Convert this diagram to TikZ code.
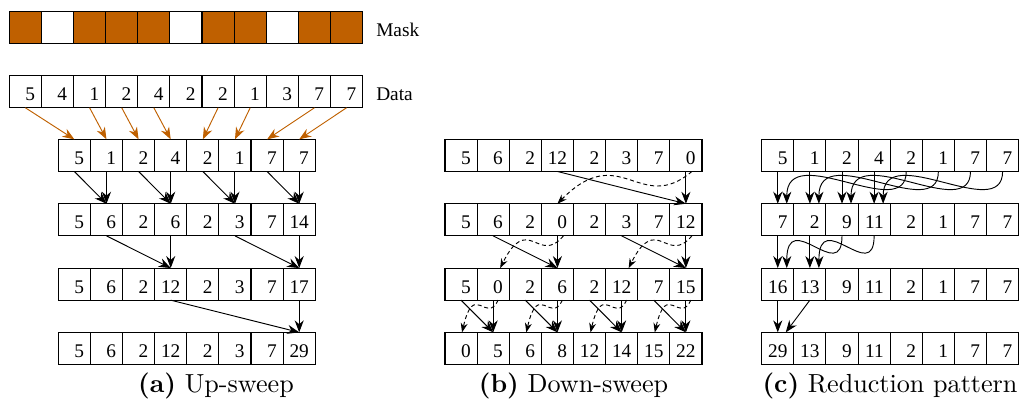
\documentclass[tikz,border=0pt]{standalone}
\usepackage{fontspec}
\usepackage{graphicx}
\newfontfamily\tms{Liberation Serif}
\usetikzlibrary{arrows.meta,calc}
\definecolor{morange}{rgb}{0.75,0.375,0}
\newcommand\cellrow[4]{%
  \foreach \v [count=\i from 0] in {#4}
    \node[cell] (#1-\i) at ({#2+32.12*(\i+0.5)},#3) {\makebox[1em][r]{\v}};}
\begin{document}
\begin{tikzpicture}[x=0.75pt,y=-0.75pt,
  cell/.style={draw, line width=0.8pt, minimum width=24.09pt, minimum height=24.09pt,
    inner sep=0pt, outer sep=0pt, text height=13.8pt, text depth=0.2pt,
    font=\tms\fontsize{14.5}{17}\selectfont},
  lbl/.style={font=\tms\fontsize{14.5}{17}\selectfont, inner sep=0pt},
  captxt/.style={inner sep=0pt, anchor=base},
  arr/.style={-{Stealth[length=9pt,width=6.8pt]}, line width=0.7pt},
  oarr/.style={arr, draw=morange},
  dsh/.style={-{Stealth[length=7pt,width=5.2pt]}, line width=0.7pt, dash pattern=on 3pt off 2.2pt}]
\useasboundingbox (0,0) rectangle (1021,401);

% mask and data
\foreach \c [count=\i from 0] in {morange,white,morange,morange,morange,white,morange,morange,white,morange,morange}
  \node[cell, fill=\c] (m-\i) at ({9.3+32.12*(\i+0.5)},27.2) {};
\cellrow{d}{9.3}{91.7}{5,4,1,2,4,2,2,1,3,7,7}
\node[lbl, anchor=base west] (masklbl) at (376,36) {Mask};
\node[lbl, anchor=base west] (datalbl) at (376,100) {Data};

% panel a
\cellrow{a1}{58.3}{155.4}{5,1,2,4,2,1,7,7}
\cellrow{a2}{58.3}{219.8}{5,6,2,6,2,3,7,14}
\cellrow{a3}{58.3}{284.1}{5,6,2,12,2,3,7,17}
\cellrow{a4}{58.3}{348.4}{5,6,2,12,2,3,7,29}
\foreach \s/\t in {0/0,2/1,3/2,4/3,6/4,7/5,9/6,10/7}
  \draw[oarr] (d-\s.south) -- (a1-\t.north);
\foreach \s/\t in {0/1,1/1,2/3,3/3,4/5,5/5,6/7,7/7}
  \draw[arr] (a1-\s.south) -- (a2-\t.north);
\foreach \s/\t in {1/3,3/3,5/7,7/7}
  \draw[arr] (a2-\s.south) -- (a3-\t.north);
\foreach \s/\t in {3/7,7/7}
  \draw[arr] (a3-\s.south) -- (a4-\t.north);

% panel b
\cellrow{b1}{445}{155.4}{5,6,2,12,2,3,7,0}
\cellrow{b2}{445}{219.8}{5,6,2,0,2,3,7,12}
\cellrow{b3}{445}{284.1}{5,0,2,6,2,12,7,15}
\cellrow{b4}{445}{348.4}{0,5,6,8,12,14,15,22}
\draw[arr] (b1-3.south) -- (b2-7.north);
\draw[arr] (b1-7.south) -- (b2-7.north);
\draw[dsh] ($(b1-7.south)+(6,0)$) .. controls +(-52,44) and +(63,-64) .. (b2-3.north);
\foreach \s/\t in {1/3,3/3,5/7,7/7}
  \draw[arr] (b2-\s.south) -- (b3-\t.north);
\foreach \s/\t in {3/1,7/5}
  \draw[dsh] ($(b2-\s.south)+(6,0)$) .. controls +(-25,30) and +(28,-56) .. ($(b3-\t.north)+(7,0)$);
\foreach \s/\t in {0/1,1/1,2/3,3/3,4/5,5/5,6/7,7/7}
  \draw[arr] (b3-\s.south) -- (b4-\t.north);
\foreach \s/\t in {1/0,3/2,5/4,7/6}
  \draw[dsh] ($(b3-\s.south)+(5,0)$) .. controls +(-12,25) and +(12,-52) .. ($(b4-\t.north)+(1,0)$);

% panel c
\cellrow{c1}{761.7}{155.4}{5,1,2,4,2,1,7,7}
\cellrow{c2}{761.7}{219.8}{7,2,9,11,2,1,7,7}
\cellrow{c3}{761.7}{284.1}{16,13,9,11,2,1,7,7}
\cellrow{c4}{761.7}{348.4}{29,13,9,11,2,1,7,7}
\foreach \i in {0,1,2,3}
  \draw[arr] (c1-\i.south) -- (c2-\i.north);
\foreach \s/\t in {4/0,5/1,6/2,7/3}
  \draw[arr] (c1-\s.south) .. controls +(0,53) and +(0,-65) .. ($(c2-\t.north)+(9,0)$);
\foreach \i in {0,1}
  \draw[arr] (c2-\i.south) -- (c3-\i.north);
\foreach \s/\t in {2/0,3/1}
  \draw[arr] (c2-\s.south) .. controls +(0,50) and +(0,-62) .. ($(c3-\t.north)+(9,0)$);
\draw[arr] (c3-0.south) -- (c4-0.north);
\draw[arr] (c3-1.south) -- ($(c4-0.north)+(8,0)$);

% captions
\node[captxt] (capa) at (216,392) {\scalebox{1.96}{\fontsize{10}{12}\selectfont\textbf{(a)} Up-sweep}};
\node[captxt] (capb) at (573.5,392) {\scalebox{1.96}{\fontsize{10}{12}\selectfont\textbf{(b)} Down-sweep}};
\node[captxt] (capc) at (890,392) {\scalebox{1.96}{\fontsize{10}{12}\selectfont\textbf{(c)} Reduction pattern}};
\end{tikzpicture}
\end{document}
